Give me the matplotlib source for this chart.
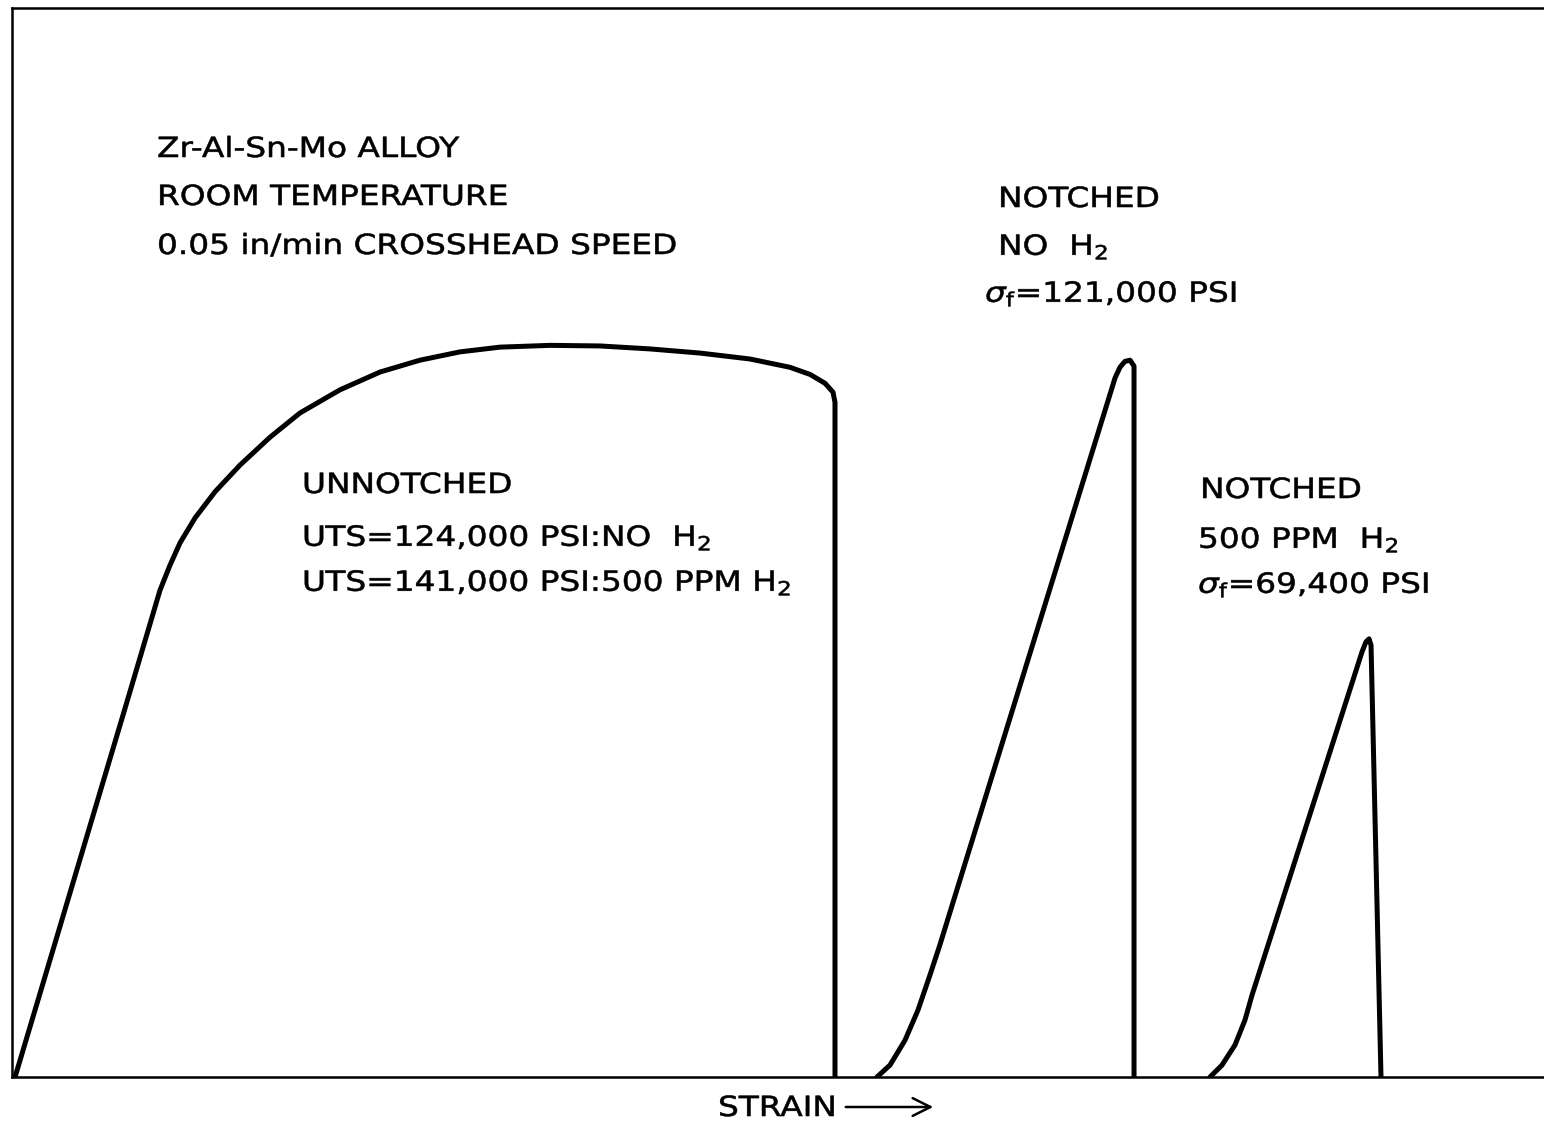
import matplotlib
matplotlib.use("Agg")
import matplotlib.pyplot as plt
from matplotlib import patheffects
from matplotlib.transforms import Affine2D

# stress-strain curves (strain in arbitrary units, stress in ksi)
unnotched_strain = [0.20, 7.38, 9.66, 10.31, 10.97, 11.95, 13.25, 14.88, 16.84, 18.80,
                    21.41, 24.02, 26.63, 29.24, 31.85, 35.12, 38.38, 41.64, 44.91,
                    48.17, 50.78, 52.09, 53.07, 53.59, 53.72, 53.72]
unnotched_stress = [0.0, 62.2, 82.1, 86.3, 90.1, 94.3, 98.7, 103.2, 107.9, 112.0,
                    115.9, 118.9, 120.9, 122.3, 123.1, 123.4, 123.3, 122.8, 122.1,
                    121.1, 119.7, 118.5, 117.0, 115.5, 113.8, 0.0]

notched_strain = [56.46, 57.31, 58.29, 59.14, 59.92, 60.57, 72.00, 72.32, 72.65,
                  72.98, 73.24, 73.24]
notched_stress = [0.0, 2.0, 6.2, 11.3, 17.2, 22.3, 117.9, 119.7, 120.7, 120.9,
                  119.9, 0.0]

notched_h2_strain = [78.20, 78.98, 79.83, 80.48, 80.94, 88.12, 88.38, 88.58, 88.71, 89.36]
notched_h2_stress = [0.0, 2.0, 5.4, 9.6, 13.8, 71.7, 73.4, 73.9, 72.8, 0.0]


class Stretch(patheffects.AbstractPathEffect):
    # widen (and slightly embolden) the glyphs to mimic the stencil lettering
    def __init__(self, sx, lw=0.4):
        super().__init__()
        self.sx = sx
        self.lw = lw

    def draw_path(self, renderer, gc, tpath, affine, rgbFace=None):
        gc0 = renderer.new_gc()
        gc0.copy_properties(gc)
        gc0.set_linewidth(self.lw)
        gc0.set_foreground("black")
        renderer.draw_path(gc0, tpath, Affine2D().scale(self.sx, 1.0) + affine, rgbFace)
        gc0.restore()


W, H = 1544, 1122
fig = plt.figure(figsize=(W / 100, H / 100), dpi=100)
ax = fig.add_axes([12 / W, (H - 1077) / H, (W - 12) / W, (1077 - 8) / H])

for xs, ys in [(unnotched_strain, unnotched_stress),
               (notched_strain, notched_stress),
               (notched_h2_strain, notched_h2_stress)]:
    ax.plot(xs, ys, color="black", lw=3.6, solid_joinstyle="round",
            solid_capstyle="round")

ax.set_xlim(0, 100)
ax.set_ylim(0, 180.3)
ax.set_xticks([])
ax.set_yticks([])
ax.spines["right"].set_visible(False)
for s in ["left", "top", "bottom"]:
    ax.spines[s].set_linewidth(1.8)

fs = 20
stretch = [Stretch(1.18)]


def put(x, y, s):
    fig.text(x / W, 1 - y / H, s, fontsize=fs, va="baseline", ha="left",
             color="black", path_effects=stretch)


put(157, 157, "Zr-Al-Sn-Mo ALLOY")
put(157, 205, "ROOM TEMPERATURE")
put(157, 254, "0.05 in/min CROSSHEAD SPEED")

put(998, 207, "NOTCHED")
put(998, 255, r"NO  H$_2$")
put(985, 302, r"$\sigma_{\rm f}$=121,000 PSI")

put(302, 493, "UNNOTCHED")
put(302, 546, r"UTS=124,000 PSI:NO  H$_2$")
put(302, 591, r"UTS=141,000 PSI:500 PPM H$_2$")

put(1200, 498, "NOTCHED")
put(1198, 548, r"500 PPM  H$_2$")
put(1198, 593, r"$\sigma_{\rm f}$=69,400 PSI")

put(718, 1116, "STRAIN")
ax.annotate("", xy=(936 / W, 1 - 1107 / H), xytext=(843 / W, 1 - 1107 / H),
            xycoords="figure fraction", textcoords="figure fraction",
            arrowprops=dict(arrowstyle="->", lw=1.8, mutation_scale=32, color="black"),
            annotation_clip=False)

fig.savefig("out.png", dpi=100)
